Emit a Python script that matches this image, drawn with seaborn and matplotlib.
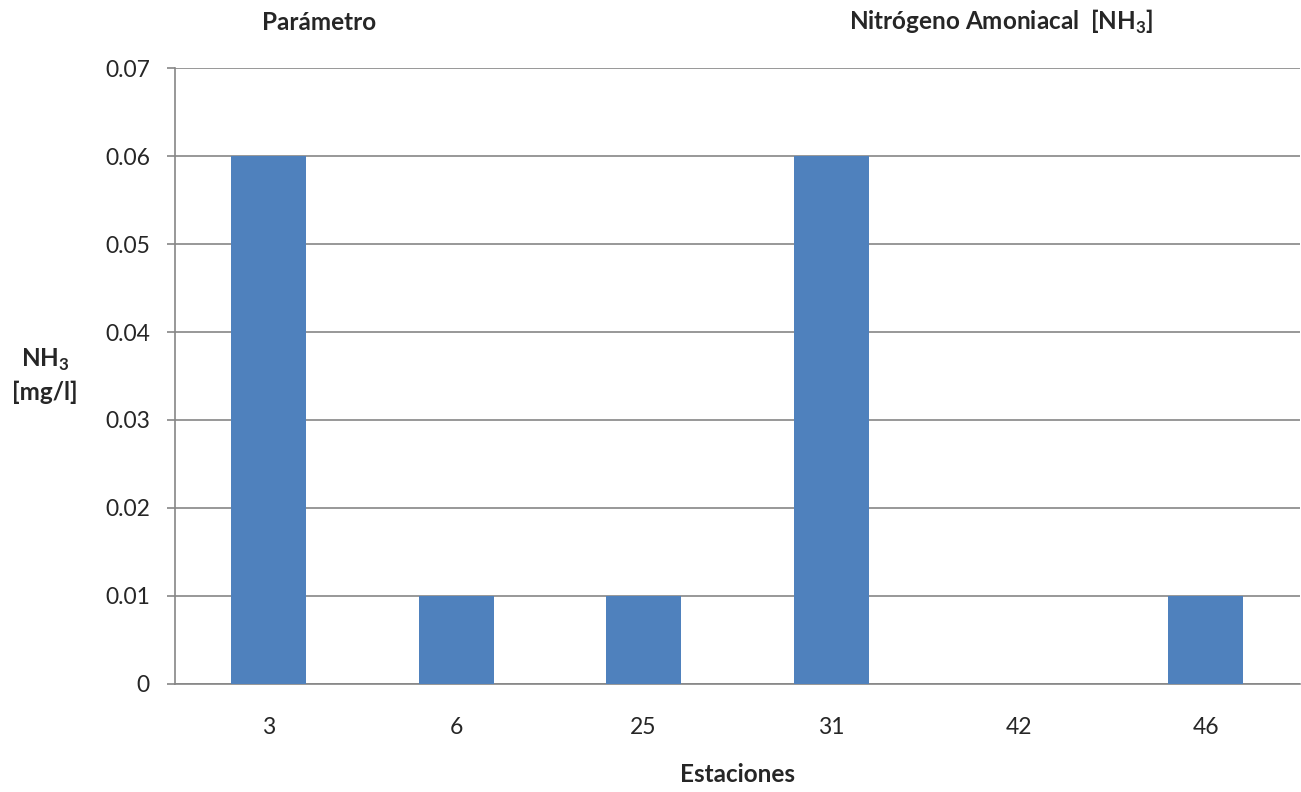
import matplotlib
matplotlib.use("Agg")
import matplotlib.pyplot as plt
import seaborn as sns
import pandas as pd

estaciones = ["3", "6", "25", "31", "42", "46"]
nh3 = [0.06, 0.01, 0.01, 0.06, 0.0, 0.01]
yticks = [0, 0.01, 0.02, 0.03, 0.04, 0.05, 0.06, 0.07]
ytick_labels = ["0", "0.01", "0.02", "0.03", "0.04", "0.05", "0.06", "0.07"]

BAR_COLOR = "#4F81BD"
GRID_COLOR = "#868686"
FONT = ["Lato", "DejaVu Sans"]


def main():
    sns.set_style("white")
    plt.rcParams["font.family"] = FONT
    plt.rcParams["mathtext.fontset"] = "custom"
    plt.rcParams["mathtext.rm"] = "Lato"
    plt.rcParams["mathtext.bf"] = "Lato:bold"

    df = pd.DataFrame({"Estaciones": estaciones, "NH3": nh3})

    fig = plt.figure(figsize=(13.01, 7.92), dpi=100)
    ax = fig.add_axes([0.1345, 0.1364, 0.8645, 0.7777])

    sns.barplot(data=df, x="Estaciones", y="NH3", order=estaciones,
                color=BAR_COLOR, saturation=1, width=0.4, linewidth=0,
                ax=ax, zorder=3)

    ax.set_xlim(-0.5, len(estaciones) - 0.5)
    ax.set_ylim(0, 0.07)
    ax.set_yticks(yticks)
    ax.set_yticklabels(ytick_labels)
    ax.yaxis.grid(True, color=GRID_COLOR, linewidth=1.2, zorder=0)
    ax.set_axisbelow(True)

    for s in ["top", "right"]:
        ax.spines[s].set_visible(False)
    for s in ["left", "bottom"]:
        ax.spines[s].set_color(GRID_COLOR)
        ax.spines[s].set_linewidth(1.2)

    ax.tick_params(axis="y", length=6, color=GRID_COLOR, width=1.2,
                   labelsize=16.5, pad=12, left=True)
    ax.tick_params(axis="x", length=0, labelsize=16.5, pad=24)

    ax.set_ylabel("")
    ax.set_xlabel("Estaciones", fontsize=17.5, fontweight="bold", labelpad=18)

    fig.text(0.245, 0.972, "Parámetro", fontsize=17.5, fontweight="bold",
             ha="center", va="center")
    fig.text(0.7695, 0.972, r"Nitrógeno Amoniacal  [NH$_\mathbf{3}$]",
             fontsize=17.5, fontweight="bold", ha="center", va="center")
    fig.text(0.0346, 0.545, r"NH$_\mathbf{3}$", fontsize=17.5,
             fontweight="bold", ha="center", va="center")
    fig.text(0.0346, 0.505, "[mg/l]", fontsize=17.5,
             fontweight="bold", ha="center", va="center")

    fig.savefig("out.png", dpi=100)
    plt.close(fig)


if __name__ == "__main__":
    main()
